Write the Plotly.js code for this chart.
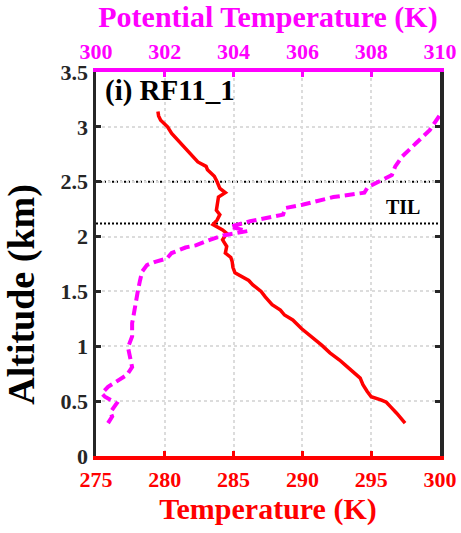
<!DOCTYPE html>
<html>
<head>
<meta charset="utf-8">
<script src="https://cdn.plot.ly/plotly-3.0.1.min.js"></script>
<style>html,body{margin:0;padding:0;background:#fff;}#chart{width:461px;height:533px;}</style>
</head>
<body>
<div id="chart"></div>
<script>
// Temperature profile (red, bottom axis)
const tempAlt = [0.30,0.34,0.39,0.45,0.49,0.51,0.54,0.59,0.65,0.71,0.74,0.78,0.83,0.875,0.94,1.01,1.07,1.12,1.16,1.24,1.285,1.33,1.38,1.45,1.50,1.56,1.60,1.67,1.72,1.77,1.81,1.85,1.88,1.91,1.97,2.03,2.06,2.11,2.15,2.20,2.24,2.28,2.32,2.36,2.40,2.44,2.50,2.55,2.61,2.64,2.68,2.79,2.88,2.94,3.00,3.06,3.10,3.14];
const tempK   = [297.46,297.2,296.85,296.4,296.1,295.75,295.0,294.7,294.4,294.2,293.9,293.5,293.1,292.7,292.0,291.4,290.8,290.4,289.95,289.3,288.7,288.4,287.8,287.3,287.0,286.4,286.1,285.1,284.95,284.9,284.8,284.4,284.45,284.5,284.2,284.5,284.2,283.5,283.8,284.0,283.75,283.8,283.9,283.9,284.4,284.0,283.8,283.6,283.1,283.0,282.4,281.6,280.9,280.5,280.2,279.7,279.55,279.5];

// Potential temperature profile (magenta, top axis)
const thetaAlt = [0.30,0.36,0.40,0.48,0.54,0.57,0.63,0.69,0.74,0.81,0.90,0.99,1.09,1.21,1.26,1.36,1.44,1.51,1.60,1.68,1.74,1.77,1.80,1.85,1.90,1.92,1.97,2.01,2.05,2.09,2.14,2.20,2.26,2.29,2.36,2.40,2.45,2.52,2.56,2.64,2.73,2.85,2.97,3.11];
const thetaK   = [300.35,300.47,300.42,300.6,300.26,300.17,300.35,300.64,300.9,301.05,301.0,300.93,301.05,301.05,301.08,301.13,301.19,301.22,301.28,301.34,301.48,301.72,302.06,302.2,302.6,302.9,303.31,303.7,304.4,303.9,304.48,305.44,305.5,306.0,306.9,307.8,307.9,308.35,308.6,308.7,308.9,309.3,309.7,310.0];

// Temperature inversion layer bounds (km)
const tilBounds = [2.12, 2.5];

const tempTicks  = [275,280,285,290,295,300];
const thetaTicks = [300,302,304,306,308,310];
const altTicks   = [0,0.5,1,1.5,2,2.5,3,3.5];
const altLabels  = ['0','0.5','1','1.5','2','2.5','3','3.5'];

const FONT = 'Liberation Serif, Times New Roman, serif';
const AX = '#262626';
const GRID = '#dcdcdc';

const traces = [
  {x: tempK, y: tempAlt, type: 'scatter', mode: 'lines', name: 'Temperature',
   line: {color: '#ff0000', width: 3.5}, xaxis: 'x', yaxis: 'y', showlegend: false},
  {x: thetaK, y: thetaAlt, type: 'scatter', mode: 'lines', name: 'Potential Temperature',
   line: {color: '#ff00ff', width: 4, dash: '10px,5px'}, xaxis: 'x2', yaxis: 'y', showlegend: false}
];

const shapes = tilBounds.map(v => ({
  type: 'line', xref: 'paper', yref: 'y', x0: 0, x1: 1, y0: v, y1: v,
  line: {color: '#000', width: 2, dash: '2px,2px'}, layer: 'below'
}));

const layout = {
  width: 461, height: 533,
  margin: {l: 96, r: 21, t: 72, b: 77, pad: 0},
  paper_bgcolor: '#fff', plot_bgcolor: '#fff',
  font: {family: FONT},
  showlegend: false,
  xaxis: {
    range: [275, 300], tickvals: tempTicks, ticks: 'inside', ticklen: 5, tickwidth: 3, tickcolor: '#ff0000',
    showline: true, linecolor: '#ff0000', linewidth: 4, mirror: false, zeroline: false,
    showgrid: true, gridcolor: GRID, gridwidth: 2, griddash: 'dot',
    tickfont: {family: FONT, size: 22, color: '#ff0000', weight: 'bold'}, ticklabelstandoff: 1,
    title: {text: 'Temperature (K)', font: {family: FONT, size: 30, color: '#ff0000', weight: 'bold'}, standoff: 6}
  },
  xaxis2: {
    overlaying: 'x', side: 'top', anchor: 'y',
    range: [300, 310], tickvals: thetaTicks, ticks: 'inside', ticklen: 5, tickwidth: 3, tickcolor: '#ff00ff',
    showline: true, linecolor: '#ff00ff', linewidth: 4, zeroline: false, showgrid: false,
    tickfont: {family: FONT, size: 22, color: '#ff00ff', weight: 'bold'},
    title: {text: 'Potential Temperature (K)', font: {family: FONT, size: 30, color: '#ff00ff', weight: 'bold'}, standoff: 8}
  },
  yaxis: {
    range: [0, 3.5], tickvals: altTicks, ticktext: altLabels, ticks: 'inside', ticklen: 5, tickwidth: 3, tickcolor: AX,
    showline: true, linecolor: AX, linewidth: 3.5, mirror: 'ticks', zeroline: false,
    showgrid: true, gridcolor: GRID, gridwidth: 2, griddash: 'dot',
    tickfont: {family: FONT, size: 22, color: AX, weight: 'bold'}
  },
  shapes: shapes,
  annotations: [
    {text: 'Altitude (km)', xref: 'paper', yref: 'paper', x: -0.215, y: 0.42, xanchor: 'center', yanchor: 'middle',
     textangle: -90, showarrow: false, font: {family: FONT, size: 38, color: '#000', weight: 'bold'}},
    {text: '(i) RF11_1', xref: 'paper', yref: 'paper', x: 0.02, y: 0.951, xanchor: 'left', yanchor: 'middle',
     showarrow: false, font: {family: FONT, size: 29, color: '#000', weight: 'bold'}},
    {text: 'TIL', xref: 'x', yref: 'y', x: 297.3, y: 2.27, xanchor: 'center', yanchor: 'middle',
     showarrow: false, font: {family: FONT, size: 20, color: '#000', weight: 'bold'}}
  ]
};

Plotly.newPlot('chart', traces, layout, {displayModeBar: false, staticPlot: true});
</script>
</body>
</html>
